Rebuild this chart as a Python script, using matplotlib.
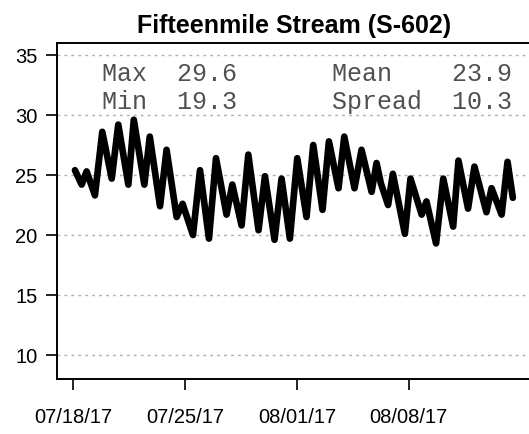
import numpy as np
import pandas as pd
import matplotlib
matplotlib.use("Agg")
import matplotlib.pyplot as plt
import matplotlib.dates as mdates

plt.rcParams['font.family'] = ['Liberation Sans', 'DejaVu Sans']

# temperature record, peaks and troughs of each daily cycle
start = pd.Timestamp('2017-07-18')
day_offset = [0.12, 0.54, 0.85, 1.37, 1.83, 2.42, 2.83, 3.46, 3.80, 4.46,
              4.80, 5.44, 5.85, 6.48, 6.85, 7.50, 7.94, 8.50, 8.94, 9.60,
              9.96, 10.54, 10.96, 11.60, 12.00, 12.60, 13.04, 13.56, 14.02, 14.60,
              15.02, 15.60, 16.00, 16.60, 16.96, 17.60, 18.04, 18.67, 18.98, 19.25,
              19.70, 20.00, 20.75, 21.10, 21.80, 22.10, 22.70, 23.15, 23.77, 24.10,
              24.70, 25.10, 25.85, 26.17, 26.80, 27.17, 27.50]
temp_c = [25.4, 24.2, 25.3, 23.3, 28.6, 24.7, 29.2, 24.2, 29.6, 24.2,
          28.2, 22.4, 27.1, 21.5, 22.6, 20.0, 25.4, 19.7, 26.4, 21.7,
          24.2, 20.8, 26.7, 20.4, 24.9, 19.6, 24.7, 19.7, 26.4, 21.5,
          27.5, 22.1, 27.8, 23.9, 28.2, 23.9, 27.1, 23.6, 26.0, 24.3,
          22.5, 25.1, 20.1, 24.7, 21.7, 22.8, 19.3, 24.7, 20.7, 26.2,
          22.2, 25.7, 21.9, 23.9, 21.7, 26.1, 23.1]

stats = {'Max': 29.6, 'Min': 19.3, 'Mean': 23.9, 'Spread': 10.3}
tick_dates = ['2017-07-18', '2017-07-25', '2017-08-01', '2017-08-08']
y_ticks = [10, 15, 20, 25, 30, 35]

times = start + pd.to_timedelta(day_offset, unit='D')

fig = plt.figure(figsize=(5.29, 4.34), dpi=100)
ax = fig.add_axes([0.1078, 0.1267, 0.8979, 0.7742])

for y in y_ticks:
    ax.axhline(y, color='#b0b0b0', lw=1.0, ls=(0, (2, 3)), zorder=1)

ax.plot(times, temp_c, color='black', lw=4.8, solid_joinstyle='round',
        solid_capstyle='round', zorder=3)

ax.set_ylim(8, 36)
ax.set_xlim(start - pd.Timedelta(days=1.0), start + pd.Timedelta(days=28.7))
ax.set_yticks(y_ticks)
ax.set_xticks(pd.to_datetime(tick_dates))
ax.xaxis.set_major_formatter(mdates.DateFormatter('%m/%d/%y'))

ax.tick_params(axis='both', direction='out', length=8, width=1.2,
               labelsize=14.5, color='black')
ax.tick_params(axis='x', pad=13)
ax.tick_params(axis='y', pad=6)
for s in ax.spines.values():
    s.set_linewidth(1.4)

ax.set_title('Fifteenmile Stream (S-602)', fontsize=18, fontweight='bold', pad=7)

mono = dict(family='Liberation Mono', fontsize=18, color='#505050',
            transform=ax.transAxes, va='center', ha='left')
ax.text(0.0947, 0.908, f"Max  {stats['Max']:.1f}", **mono)
ax.text(0.0947, 0.824, f"Min  {stats['Min']:.1f}", **mono)
ax.text(0.579, 0.908, f"Mean    {stats['Mean']:.1f}", **mono)
ax.text(0.579, 0.824, f"Spread  {stats['Spread']:.1f}", **mono)

fig.savefig('out.png', dpi=100)
